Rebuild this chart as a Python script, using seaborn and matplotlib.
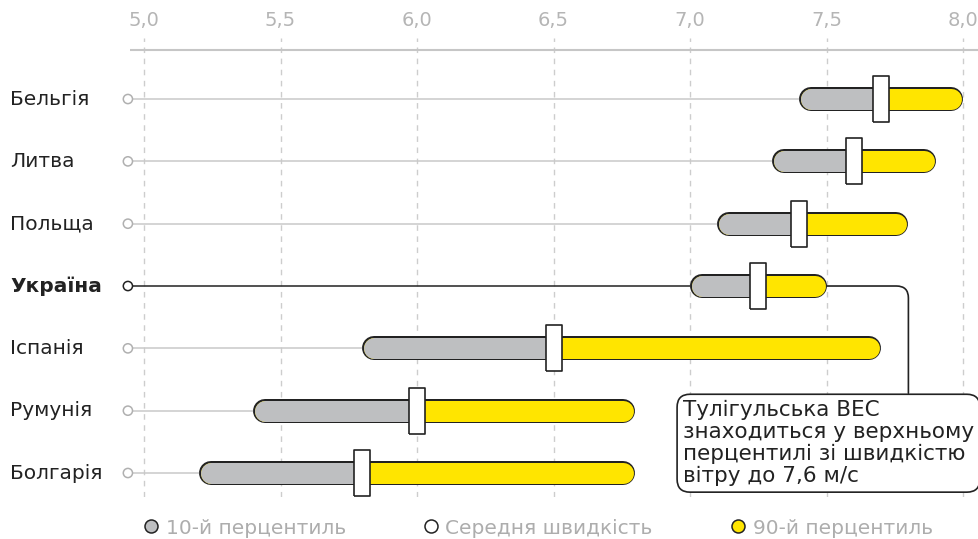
import numpy as np
import pandas as pd
import matplotlib.pyplot as plt
from matplotlib.lines import Line2D
from matplotlib.markers import MarkerStyle
import seaborn as sns

countries = ['Бельгія', 'Литва', 'Польща', 'Україна', 'Іспанія', 'Румунія', 'Болгарія']
p10 = [7.40, 7.30, 7.10, 7.00, 5.80, 5.40, 5.20]
mean = [7.70, 7.60, 7.40, 7.25, 6.50, 6.00, 5.80]
p90 = [8.00, 7.90, 7.80, 7.50, 7.70, 6.80, 6.80]
ticks = [5.0, 5.5, 6.0, 6.5, 7.0, 7.5, 8.0]
tick_labels = ['5,0', '5,5', '6,0', '6,5', '7,0', '7,5', '8,0']
highlight = 'Україна'
note = 'Тулігульська ВЕС\nзнаходиться у верхньому\nперцентилі зі швидкістю\nвітру до 7,6 м/с'
legend_labels = ['10-й перцентиль', 'Середня швидкість', '90-й перцентиль']

GRAY = '#bebfc1'
YELLOW = '#ffe500'
DARK = '#222222'
LIGHT = '#b5b5b5'

df = pd.DataFrame({'country': countries, 'p10': p10, 'mean': mean, 'p90': p90})
df['row'] = np.arange(len(df))
df['stem'] = 4.941

sns.set_theme(style='white')
plt.rcParams['font.family'] = ['DejaVu Sans']

W, H = 979, 539
PX = 0.72  # points per pixel at dpi 100
fig = plt.figure(figsize=(W / 100, H / 100), dpi=100)
ax = fig.add_axes([130 / W, 1 - 497 / H, 849 / W, (497 - 38) / H])
ax.set_xlim(4.9487, 8.0586)
ax.set_ylim(6.385, -0.979)
ppu = 849 / (8.0586 - 4.9487)  # pixels per data unit

r_out = 12 / ppu
for _, d in df.iterrows():
    hi = d['country'] == highlight
    i = d['row']
    # stem line
    ax.plot([d['stem'], d['p10']], [i, i], color=DARK if hi else '#c9c9c9',
            lw=1.1, zorder=1)
    # outline pill
    ax.plot([d['p10'] + r_out, d['p90'] - r_out], [i, i], color=DARK,
            lw=24 * PX, solid_capstyle='round', zorder=3)
    # yellow pill
    ax.plot([d['p10'] + r_out, d['p90'] - r_out], [i, i], color=YELLOW,
            lw=21 * PX, solid_capstyle='round', zorder=4)
    # gray part up to the mean
    ax.plot([d['p10'] + r_out, d['mean'] - 10.5 / ppu], [i, i], color=GRAY,
            lw=21 * PX, solid_capstyle='round', zorder=4)
    ax.plot([d['p10'] + r_out, d['mean']], [i, i], color=GRAY,
            lw=21 * PX, solid_capstyle='butt', zorder=4)

# start circles
sns.scatterplot(data=df, x='stem', y='row', s=44, color='white',
                edgecolor=[DARK if c == highlight else '#b0b0b0' for c in countries],
                linewidth=1.1, zorder=5, ax=ax, legend=False, clip_on=False)

# mean markers (tall rectangles)
rect = MarkerStyle([(-0.16, -0.5), (0.16, -0.5), (0.16, 0.5), (-0.16, 0.5), (-0.16, -0.5)])
sns.scatterplot(data=df, x='mean', y='row', marker=rect, s=(47 * PX) ** 2,
                color='white', edgecolor=DARK, linewidth=1.2, zorder=6, ax=ax,
                legend=False)

# country labels
for _, d in df.iterrows():
    ax.text(-120 / 849, d['row'], d['country'], transform=ax.get_yaxis_transform(),
            ha='left', va='center', fontsize=14.5, color=DARK,
            fontweight='bold' if d['country'] == highlight else 'normal')

# axis styling
ax.set_xticks(ticks)
ax.set_xticklabels(tick_labels)
ax.xaxis.tick_top()
ax.tick_params(axis='x', length=0, pad=6, labelsize=14, labelcolor=LIGHT)
ax.set_yticks([])
ax.set_xlabel('')
ax.set_ylabel('')
ax.grid(False)
ax.xaxis.grid(True, ls=(0, (4, 4)), color='#cdcdcd', lw=1)
for s in ax.spines.values():
    s.set_visible(False)
ax.axhline(-0.786, color='#c6c6c6', lw=1.5, zorder=2)

# annotation
hi_row = countries.index(highlight)
ax.text(6.974, 4.83, note, ha='left', va='top', fontsize=15.5, color=DARK,
        linespacing=1.12, zorder=8,
        bbox=dict(boxstyle='round,pad=0.27,rounding_size=0.6', fc='white',
                  ec=DARK, lw=1.2))
ax.annotate('', xy=(p90[hi_row], hi_row), xytext=(7.80, 4.72),
            arrowprops=dict(arrowstyle='-', color=DARK, lw=1.2, shrinkA=0, shrinkB=0,
                            connectionstyle='angle,angleA=90,angleB=0,rad=12'),
            zorder=2)

# legend
handles = [Line2D([], [], marker='o', ls='', markersize=13 * PX, mfc=c, mec=DARK, mew=1.1)
           for c in [GRAY, 'white', YELLOW]]
fig.legend(handles, legend_labels, loc='center', bbox_to_anchor=(537 / W, 1 - 528 / H),
           ncol=3, frameon=False, handletextpad=0.2, columnspacing=3.75, fontsize=14.5,
           labelcolor='#adadad', handlelength=1)

fig.savefig('out.png', dpi=100)
